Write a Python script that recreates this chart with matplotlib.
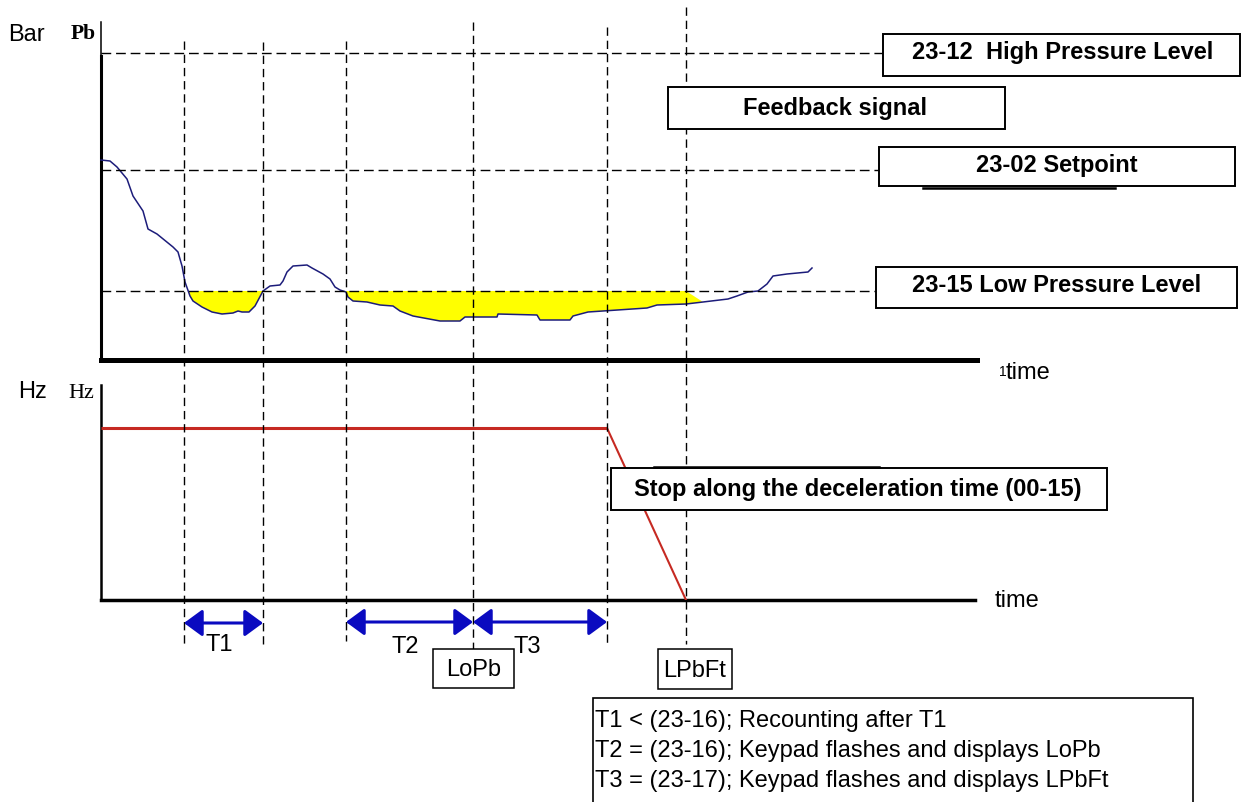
import matplotlib
matplotlib.use('Agg')
import matplotlib.pyplot as plt
from matplotlib.patches import Rectangle
from matplotlib.transforms import blended_transform_factory as blend

plt.rcParams['lines.scale_dashes'] = False
plt.rcParams['font.family'] = ['Liberation Sans', 'DejaVu Sans']

# ---------------- data ----------------
# feedback signal (time, pressure)
fb_time = [0.0, 0.9, 1.6, 2.6, 3.2, 4.2, 4.7, 5.6, 7.2, 7.7, 8.1, 8.4, 8.9, 9.2,
           10.1, 11.1, 12.1, 13.2, 13.7, 14.1, 14.8, 15.4, 16.2, 16.9, 17.9, 18.2,
           18.6, 19.2, 20.6, 21.1, 22.2, 22.9, 23.4, 23.9, 24.5, 24.7, 25.2, 26.6,
           27.9, 29.2, 29.9, 31.2, 33.9, 35.9, 36.4, 37.1, 39.6, 39.7, 43.6, 43.9,
           46.9, 47.2, 48.7, 54.6, 55.6, 58.5, 60.2, 62.7, 63.6, 64.7, 65.7, 66.6,
           67.2, 68.6, 70.7, 71.1]
fb_pressure = [20.0, 19.9, 19.3, 18.1, 16.4, 14.9, 13.1, 12.6, 11.3, 10.8, 9.4, 7.8,
               6.4, 5.9, 5.3, 4.8, 4.6, 4.7, 4.9, 4.8, 4.8, 5.4, 6.9, 7.4, 7.5, 7.9,
               8.8, 9.4, 9.5, 9.2, 8.6, 8.1, 7.3, 7.0, 6.8, 6.3, 5.9, 5.8, 5.5, 5.4,
               4.9, 4.4, 3.9, 3.9, 4.3, 4.3, 4.3, 4.6, 4.5, 4.0, 4.0, 4.4, 4.8, 5.2,
               5.5, 5.6, 5.8, 6.1, 6.4, 6.8, 6.9, 7.6, 8.4, 8.6, 8.8, 9.2]
high_level = 30.7
setpoint = 19.0
low_level = 6.9
event_times = [8.3, 16.2, 24.5, 37.2, 50.6, 58.5]
# output frequency
freq_time = [0.0, 50.6, 58.5]
freq_hz = [60.0, 60.0, 0.0]
# timing intervals
span_names = ["T1", "T2", "T3"]
span_start = [8.3, 24.5, 37.2]
span_end = [16.2, 37.2, 50.6]
level_labels = ["23-12  High Pressure Level", "23-02 Setpoint", "23-15 Low Pressure Level"]
feedback_label = "Feedback signal"
stop_label = "Stop along the deceleration time (00-15)"
notes = ["T1 < (23-16); Recounting after T1",
         "T2 = (23-16); Keypad flashes and displays LoPb",
         "T3 = (23-17); Keypad flashes and displays LPbFt"]

# ---------------- layout ----------------
W, H = 1241, 803
fig = plt.figure(figsize=(W / 100, H / 100), dpi=100)
fig.patch.set_facecolor('white')


def frac(x0, y0, x1, y1):
    return [x0 / W, 1 - y1 / H, (x1 - x0) / W, (y1 - y0) / H]


ax1 = fig.add_axes(frac(101, 23, 977, 361))
ax1.set_xlim(0, 87.6)
ax1.set_ylim(0, 33.8)
ax2 = fig.add_axes(frac(101, 386, 977, 601))
ax2.set_xlim(0, 87.6)
ax2.set_ylim(0, 75)
ax0 = fig.add_axes([0, 0, 1, 1])
ax0.set_xlim(0, W)
ax0.set_ylim(H, 0)
ax0.axis('off')
ax0.patch.set_visible(False)
ax0.set_zorder(5)

for ax in (ax1, ax2):
    ax.patch.set_visible(False)
    ax.set_xticks([])
    ax.set_yticks([])
    ax.spines['top'].set_visible(False)
    ax.spines['right'].set_visible(False)

ax1.spines['left'].set_linewidth(2.2)
ax1.spines['left'].set_bounds(0, 30.4)
ax1.plot([0, 0], [30.4, 33.8], color='black', lw=1.1, clip_on=False)
ax1.spines['bottom'].set_linewidth(3.6)
ax2.spines['left'].set_linewidth(1.8)
ax2.spines['bottom'].set_linewidth(2.5)
ax2.spines['bottom'].set_bounds(0, 87.4)

# yellow region + feedback
ax1.fill_between(fb_time, fb_pressure, low_level,
                 where=[(p < low_level) and (t <= event_times[1] or (event_times[2] <= t <= event_times[5]))
                        for t, p in zip(fb_time, fb_pressure)],
                 interpolate=True, color='#ffff00', lw=0, zorder=1)
ax1.plot(fb_time, fb_pressure, color='#1c1c7a', lw=1.1, zorder=3, clip_on=False)

# frequency
ax2.plot(freq_time[:2], freq_hz[:2], color='#c62a22', lw=2.2, solid_capstyle='butt', zorder=3)
ax2.plot(freq_time[1:], freq_hz[1:], color='#c62a22', lw=1.5, zorder=3)

# horizontal dashed levels
bt_lvl = blend(ax0.transData, ax1.transData)
level_values = [high_level, setpoint, low_level]
level_ends = [883, 879, 876]
for v, xe in zip(level_values, level_ends):
    ax0.plot([101, xe], [v, v], transform=bt_lvl, color='black', lw=1.0,
             dashes=(7, 3.5), zorder=2)

# vertical dashed event lines
bt_ev = blend(ax1.transData, ax0.transData)
ev_top = [42, 43, 42, 23, 28, 8]
ev_bot = [645, 645, 642, 650, 647, 645]
for t, y0, y1 in zip(event_times, ev_top, ev_bot):
    ax0.plot([t, t], [y0, y1], transform=bt_ev, color='black', lw=1.0,
             dashes=(6, 3.5), zorder=2)

# interval arrows
blue = '#0a0ac0'
arrow_y = [624, 623, 623]
label_x = [206, 391, 514]
label_y = [651, 653, 653]
for name, a, b, ay, lx, ly in zip(span_names, span_start, span_end, arrow_y, label_x, label_y):
    ax0.annotate('', xy=(b, ay), xytext=(a, ay), xycoords=bt_ev, textcoords=bt_ev,
                 arrowprops=dict(arrowstyle='<|-|>,head_length=0.45,head_width=0.33',
                                 color=blue, lw=2.2, shrinkA=0, shrinkB=0,
                                 mutation_scale=25), zorder=4)
    ax0.text(lx, ly, name, fontsize=17, ha='left', va='baseline', zorder=6)


def box(x0, y0, x1, y1, lw=1.4, z=7):
    ax0.add_patch(Rectangle((x0, y0), x1 - x0, y1 - y0, facecolor='white',
                            edgecolor='black', lw=lw, zorder=z, clip_on=False))


# level boxes
box_rects = [(883, 35, 1240, 77), (879, 148, 1235, 187), (876, 268, 1237, 309)]
box_text = [(1063, 59), (1057, 172), (1057, 292)]
for lab, r, (tx, ty) in zip(level_labels, box_rects, box_text):
    box(*r)
    ax0.text(tx, ty, lab, fontsize=17, fontweight='bold', ha='center', va='baseline', zorder=8)
ax0.plot([923, 1115], [188.5, 188.5], color='black', lw=1.8, zorder=6)

box(668, 88, 1005, 130)
ax0.text(835, 115, feedback_label, fontsize=17, fontweight='bold', ha='center', va='baseline', zorder=8)

box(611, 469, 1107, 511)
ax0.plot([654, 879], [468, 468], color='black', lw=1.8, zorder=8)
ax0.text(858, 496, stop_label, fontsize=17, fontweight='bold', ha='center', va='baseline', zorder=8)

# state boxes
box(433, 650, 514, 689, lw=1.1)
ax0.text(474, 676, "LoPb", fontsize=17, ha='center', va='baseline', zorder=8)
box(658, 650, 732, 690, lw=1.1)
ax0.text(695, 677, "LPbFt", fontsize=17, ha='center', va='baseline', zorder=8)

# notes box
box(593, 699, 1193, 830, lw=1.2)
for i, line in enumerate(notes):
    ax0.text(595, 727 + 30 * i, line, fontsize=17, ha='left', va='baseline', zorder=8)

# axis labels
serif = ['Liberation Serif', 'DejaVu Serif']
ax0.text(8, 41, "Bar", fontsize=17, ha='left', va='baseline')
ax0.text(71, 39, "Pb", fontsize=15.5, fontweight='bold', family=serif, ha='left', va='baseline')
ax0.text(18, 398, "Hz", fontsize=17, ha='left', va='baseline')
ax0.text(68, 398, "Hz", fontsize=16, family=serif, ha='left', va='baseline')
ax0.text(999, 376, "1", fontsize=10, ha='left', va='baseline')
ax0.text(1006, 379, "time", fontsize=17, ha='left', va='baseline')
ax0.text(995, 607, "time", fontsize=17, ha='left', va='baseline')

fig.savefig('out.png', dpi=100, facecolor='white')
